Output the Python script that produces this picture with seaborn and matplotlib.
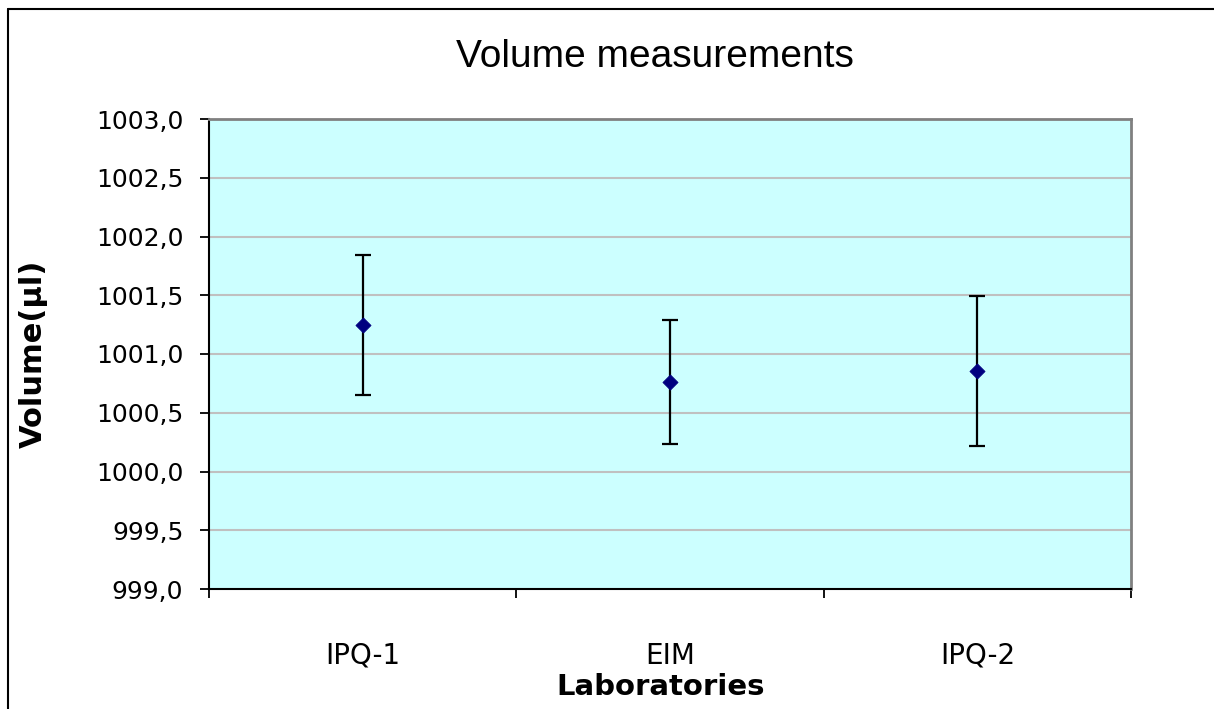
import numpy as np
import pandas as pd
import seaborn as sns
import matplotlib.pyplot as plt
from matplotlib.lines import Line2D

labs = ["IPQ-1", "EIM", "IPQ-2"]
volume = [1001.25, 1000.76, 1000.855]
err = [0.595, 0.53, 0.635]
yticks = [999.0, 999.5, 1000.0, 1000.5, 1001.0, 1001.5, 1002.0, 1002.5, 1003.0]
ytick_labels = ["999,0", "999,5", "1000,0", "1000,5", "1001,0", "1001,5", "1002,0", "1002,5", "1003,0"]

df = pd.DataFrame({"lab": labs, "volume": volume, "err": err})

sns.set_style("white")
plt.rcParams['font.family'] = ['DejaVu Sans']
plt.rcParams['text.color'] = 'black'
plt.rcParams['axes.labelcolor'] = 'black'
plt.rcParams['xtick.color'] = 'black'
plt.rcParams['ytick.color'] = 'black'

fig = plt.figure(figsize=(12.14, 7.09), dpi=100)
ax = fig.add_axes([209/1214, 1 - 589/709, 922/1214, 470/709])
ax.set_facecolor("#CCFFFF")

# error bars first, then the diamonds on top
ax.errorbar(range(len(labs)), df["volume"], yerr=df["err"], fmt="none",
            ecolor="black", elinewidth=1.6, capsize=6, capthick=1.6, zorder=3)
sns.scatterplot(data=df, x="lab", y="volume", marker="D", s=60, color="#000080",
                edgecolor="#000080", linewidth=0.5, ax=ax, zorder=4)

ax.set_xlim(-0.5, 2.5)
ax.set_ylim(999.0, 1003.0)
ax.set_yticks(yticks)
ax.set_yticklabels(ytick_labels, fontsize=18)
ax.set_xticks(range(len(labs)))
ax.set_xticklabels(labs, fontsize=20)
ax.tick_params(axis="x", length=0, pad=38)
ax.tick_params(axis="y", length=6.5, width=1.3, direction="out", pad=12, left=True)

# tick marks between categories on the x axis
ax.set_xticks([-0.5, 0.5, 1.5, 2.5], minor=True)
ax.tick_params(axis="x", which="minor", length=6.5, width=1.3, direction="out", bottom=True)

for y in yticks[1:-1]:
    ax.axhline(y, color="#C0C0C0", lw=1.5, zorder=1)

for side in ["left", "bottom"]:
    ax.spines[side].set_color("black")
    ax.spines[side].set_linewidth(1.5)
for side in ["top", "right"]:
    ax.spines[side].set_color("#808080")
    ax.spines[side].set_linewidth(2)

ax.set_xlabel("Laboratories", fontsize=21, fontweight="bold")
ax.set_ylabel("Volume(µl)", fontsize=22, fontweight="bold")
ax.xaxis.set_label_coords(0.49, -0.179)
ax.yaxis.set_label_coords(-0.1746, 0.5)
fig.text(655/1214, 1 - 57/709, "Volume measurements", ha="center", va="center",
         fontsize=28, family=["Liberation Sans", "DejaVu Sans"])

# outer chart frame (top and left visible)
fig.add_artist(Line2D([8/1214, 1], [1 - 9/709, 1 - 9/709], color="black", lw=1.5,
                      transform=fig.transFigure))
fig.add_artist(Line2D([8/1214, 8/1214], [0, 1 - 9/709], color="black", lw=1.5,
                      transform=fig.transFigure))

fig.savefig("out.png", dpi=100)
